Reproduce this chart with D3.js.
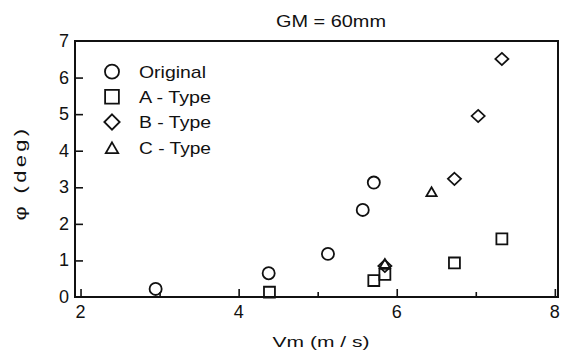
<!DOCTYPE html>
<html>
<head>
<meta charset="utf-8">
<script src="https://cdn.jsdelivr.net/npm/d3@7"></script>
<style>
  html, body { margin: 0; padding: 0; background: #fff; }
  svg { display: block; }
  text { font-family: "Liberation Sans", Arial, sans-serif; fill: #111; }
</style>
</head>
<body>
<script>
// ---- data ----
const seriesNames = ["Original", "A - Type", "B - Type", "C - Type"];
const originalX = [2.95, 4.38, 5.13, 5.57, 5.71];
const originalY = [0.22, 0.65, 1.18, 2.38, 3.13];
const aTypeX = [4.39, 5.71, 5.85, 6.73, 7.33];
const aTypeY = [0.13, 0.45, 0.62, 0.93, 1.59];
const bTypeX = [5.85, 6.73, 7.03, 7.33];
const bTypeY = [0.85, 3.23, 4.95, 6.51];
const cTypeX = [5.85, 6.44];
const cTypeY = [0.92, 2.88];
const xMajorTicks = [2, 4, 6, 8];
const xMinorTicks = [3, 5, 7];
const yTicks = [0, 1, 2, 3, 4, 5, 6, 7];
const titleText = "GM = 60mm";
const xLabel = "Vm  (m / s)";
const yLabel = "φ   (deg)";

// ---- layout ----
const W = 563, H = 358;
const L = 75, R = 558, T = 41, B = 297;

const svg = d3.select("body").append("svg").attr("width", W).attr("height", H);

const x = d3.scaleLinear().domain([1.93, 8.04]).range([L, R]);
const y = d3.scaleLinear().domain([0, 7]).range([B, T]);

// frame
svg.append("rect")
  .attr("x", L).attr("y", T).attr("width", R - L).attr("height", B - T)
  .attr("fill", "none").attr("stroke", "#111").attr("stroke-width", 2);

// x axis ticks (inside)
const xAxisMajor = d3.axisTop(x).tickValues(xMajorTicks).tickSize(8).tickFormat("");
const gxM = svg.append("g").attr("transform", `translate(0,${B})`).call(xAxisMajor);
const xAxisMinor = d3.axisTop(x).tickValues(xMinorTicks).tickSize(5).tickFormat("");
const gxm = svg.append("g").attr("transform", `translate(0,${B})`).call(xAxisMinor);
[gxM, gxm].forEach(g => {
  g.select(".domain").remove();
  g.selectAll("line").attr("stroke", "#111").attr("stroke-width", 1.6);
});
// x tick labels
svg.append("g").selectAll("text").data(xMajorTicks).join("text")
  .attr("x", d => x(d)).attr("y", 318)
  .attr("text-anchor", "middle")
  .attr("font-size", 18)
  .text(d => d);

// y axis ticks (inside)
const yAxis = d3.axisRight(y).tickValues(yTicks.filter(d => d > 0 && d < 7)).tickSize(8).tickFormat("");
const gy = svg.append("g").attr("transform", `translate(${L},0)`).call(yAxis);
gy.select(".domain").remove();
gy.selectAll("line").attr("stroke", "#111").attr("stroke-width", 1.6);
svg.append("g").selectAll("text").data(yTicks).join("text")
  .attr("x", 69).attr("y", d => y(d) + 6)
  .attr("text-anchor", "end")
  .attr("font-size", 18)
  .text(d => d);

// title & labels
svg.append("text").attr("x", 331).attr("y", 27).attr("text-anchor", "middle")
  .attr("font-size", 16).attr("textLength", 110).attr("lengthAdjust", "spacingAndGlyphs")
  .text(titleText);
svg.append("text").attr("x", 321).attr("y", 347).attr("text-anchor", "middle")
  .attr("font-size", 15).attr("textLength", 97).attr("lengthAdjust", "spacingAndGlyphs")
  .text(xLabel);
svg.append("text")
  .attr("transform", "translate(26,173) rotate(-90)")
  .attr("text-anchor", "middle")
  .attr("font-size", 16)
  .attr("letter-spacing", 2.5)
  .attr("textLength", 95).attr("lengthAdjust", "spacingAndGlyphs")
  .text(yLabel);

// symbols
const symTypes = [d3.symbolCircle, d3.symbolSquare, d3.symbolDiamond2, d3.symbolTriangle2];
function symPath(i, size) {
  return d3.symbol().type(symTypes[i]).size(size)();
}
const dataSizes = [115, 120, 110, 75];
const legendSizes = [155, 190, 150, 110];

const series = [
  { xs: originalX, ys: originalY },
  { xs: aTypeX, ys: aTypeY },
  { xs: bTypeX, ys: bTypeY },
  { xs: cTypeX, ys: cTypeY }
];

series.forEach((s, i) => {
  const pts = s.xs.map((v, k) => [v, s.ys[k]]);
  svg.append("g").selectAll("path").data(pts).join("path")
    .attr("d", symPath(i, dataSizes[i]))
    .attr("transform", d => {
      let t = `translate(${x(d[0])},${y(d[1])})`;
      if (i === 2) t += " scale(1,0.93)";
      if (i === 3) t += " translate(0,1.5)";
      return t;
    })
    .attr("fill", "none").attr("stroke", "#111").attr("stroke-width", 1.8);
});

// legend
const legY = [71.7, 96.7, 122, 148];
const leg = svg.append("g");
seriesNames.forEach((name, i) => {
  leg.append("path")
    .attr("d", symPath(i, legendSizes[i]))
    .attr("transform", `translate(112,${legY[i] + (i === 3 ? 1.5 : 0)})`)
    .attr("fill", "none").attr("stroke", "#111").attr("stroke-width", 1.8);
  leg.append("text")
    .attr("x", 139).attr("y", legY[i] + 6)
    .attr("font-size", 17)
    .attr("textLength", i === 0 ? 67 : 72).attr("lengthAdjust", "spacingAndGlyphs")
    .text(name);
});
</script>
</body>
</html>
